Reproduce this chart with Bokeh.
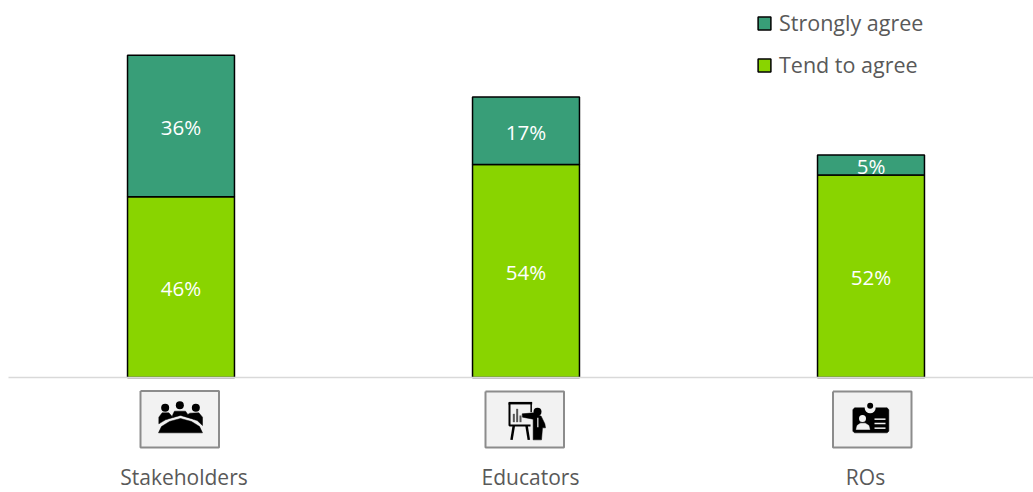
from bokeh.plotting import figure, ColumnDataSource
from bokeh.models import Legend, LegendItem, FixedTicker, Range1d
from bokeh.core.properties import value
from bokeh.embed import file_html
from bokeh.resources import INLINE

categories = ["Stakeholders", "Educators", "ROs"]
tend_to_agree = [46, 54.2, 51.5]
strongly_agree = [36, 17.2, 5.1]
series_names = ["Tend to agree", "Strongly agree"]
FONT = "Open Sans"
GREEN, TEAL = "#89d400", "#389e78"

W, H = 1033, 492
BASE = 377          # page y of the baseline
PXU = 3.93          # pixels per percentage point
CX0, STEP = 180.5, 345.0
LABEL_PX = [183.5, 530.0, 865.0]   # the category labels sit off the bar centres


def dx(px):
    return (px - CX0) / STEP


def dy(py):
    return (BASE - py) / PXU


xs = list(range(len(categories)))
p = figure(width=W, height=H, output_backend="svg", toolbar_location=None,
           x_range=Range1d(dx(0), dx(W)), y_range=Range1d(dy(H), dy(0)),
           min_border=0, outline_line_color=None,
           background_fill_color=None, border_fill_color=None)
p.grid.visible = False
p.yaxis.visible = False

tick_pos = [dx(v) for v in LABEL_PX]
ax = p.xaxis[0]
ax.fixed_location = 0
ax.bounds = (dx(8), dx(W))
ax.ticker = FixedTicker(ticks=tick_pos)
ax.major_label_overrides = {t: c for t, c in zip(tick_pos, categories)}
ax.axis_line_color = "#d9d9d9"
ax.axis_line_width = 1.5
ax.major_tick_line_color = None
ax.minor_tick_line_color = None
ax.major_label_standoff = 79
ax.major_label_text_font = FONT
ax.major_label_text_font_size = "21px"
ax.major_label_text_color = "#595959"

src = ColumnDataSource(dict(x=xs, tend=tend_to_agree, strong=strongly_agree))
bars = p.vbar_stack(["tend", "strong"], x="x", width=0.31, color=[GREEN, TEAL],
                    line_color="black", line_width=1.5, source=src)

lx, ly, lt = [], [], []
for i in xs:
    lx += [i, i]
    ly += [tend_to_agree[i] / 2, tend_to_agree[i] + strongly_agree[i] / 2]
    lt += [f"{tend_to_agree[i]:.0f}%", f"{strongly_agree[i]:.0f}%"]
p.text(lx, ly, text=lt, text_color="white", text_font=value(FONT),
       text_font_size="20.5px", text_align="center", text_baseline="middle", y_offset=1)

legend = Legend(items=[LegendItem(label=series_names[1], renderers=[bars[1]]),
                       LegendItem(label=series_names[0], renderers=[bars[0]])],
                location=(756, 413), orientation="vertical",
                background_fill_alpha=0, border_line_color=None,
                glyph_width=16, glyph_height=16, label_standoff=7, spacing=13,
                padding=6, margin=0, label_height=22,
                label_text_font=FONT, label_text_font_size="21.5px", label_text_color="#595959")
p.add_layout(legend, "center")

# ----- pictograms (decoration below the axis), drawn in page pixels
BLK = "black"
LIGHT = "#f2f2f2"


def poly(ox, oy, pts, color=BLK):
    p.patch([dx(ox + a / 3) for a, b in pts], [dy(oy + b / 3) for a, b in pts],
            fill_color=color, line_color=color, line_width=0.5)


def line(ox, oy, pts, color=BLK, w=2):
    p.line([dx(ox + a / 3) for a, b in pts], [dy(oy + b / 3) for a, b in pts],
           line_color=color, line_width=w)


def dot(ox, oy, a, b, size, color=BLK):
    p.scatter([dx(ox + a / 3)], [dy(oy + b / 3)], marker="circle", size=size,
              fill_color=color, line_color=None)


# boxes
for x0, x1, y0, y1 in [(140, 218.5, 390.5, 447), (485, 563.5, 391, 447), (832.5, 911, 391, 447)]:
    corners = [(x0 * 3, y0 * 3), (x1 * 3, y0 * 3), (x1 * 3, y1 * 3), (x0 * 3, y1 * 3), (x0 * 3, y0 * 3)]
    poly(0, 0, corners, LIGHT)
    line(0, 0, corners, "#8c8c8c", 2)

# stakeholders
ox, oy = 100, 370
for a, b in [(194, 112), (238, 104), (286, 112)]:
    dot(ox, oy, a, b, 8)
poly(ox, oy, [(175, 160), (175, 140), (185, 127), (205, 127), (215, 138), (218, 130), (222, 122), (255, 122),
              (262, 132), (268, 128), (295, 127), (306, 140), (306, 165), (290, 150), (240, 135), (195, 148)])
poly(ox, oy, [(170, 190), (180, 165), (205, 148), (240, 138), (275, 148), (300, 165), (310, 190)], LIGHT)
poly(ox, oy, [(174, 187), (183, 168), (207, 153), (240, 144), (273, 153), (297, 168), (306, 187)])

# educators
ox, oy = 450, 370
line(ox, oy, [(174, 98), (245, 98)], BLK, 2.5)
line(ox, oy, [(177, 98), (177, 165), (240, 165)], BLK, 2)
line(ox, oy, [(242, 98), (242, 125)], BLK, 1.5)
line(ox, oy, [(190, 165), (183, 208)], BLK, 2.5)
line(ox, oy, [(228, 165), (235, 208)], BLK, 2.5)
line(ox, oy, [(190, 155), (190, 130)], "#555555", 2)
line(ox, oy, [(200, 155), (200, 115)], "#555555", 2)
line(ox, oy, [(210, 155), (210, 135)], "#555555", 2)
dot(ox, oy, 261, 124, 8)
poly(ox, oy, [(215, 130), (250, 127), (272, 137), (283, 160), (285, 172), (276, 172), (273, 208), (248, 208),
              (248, 146), (216, 140)])
line(ox, oy, [(262, 142), (262, 170)], LIGHT, 1.2)

# ROs
ox, oy = 800, 370
poly(ox, oy, [(162, 112), (260, 112), (265, 118), (265, 182), (260, 187), (162, 187), (157, 182), (157, 118)])
dot(ox, oy, 209, 112, 11, LIGHT)
dot(ox, oy, 209, 106, 6)
dot(ox, oy, 186, 144, 7, LIGHT)
poly(ox, oy, [(167, 177), (170, 165), (180, 158), (194, 158), (205, 165), (208, 177)], LIGHT)
for b in (146, 159, 173):
    line(ox, oy, [(222, b), (255, b)], LIGHT, 1.5)

open("out.html", "w").write(file_html(p, INLINE))
